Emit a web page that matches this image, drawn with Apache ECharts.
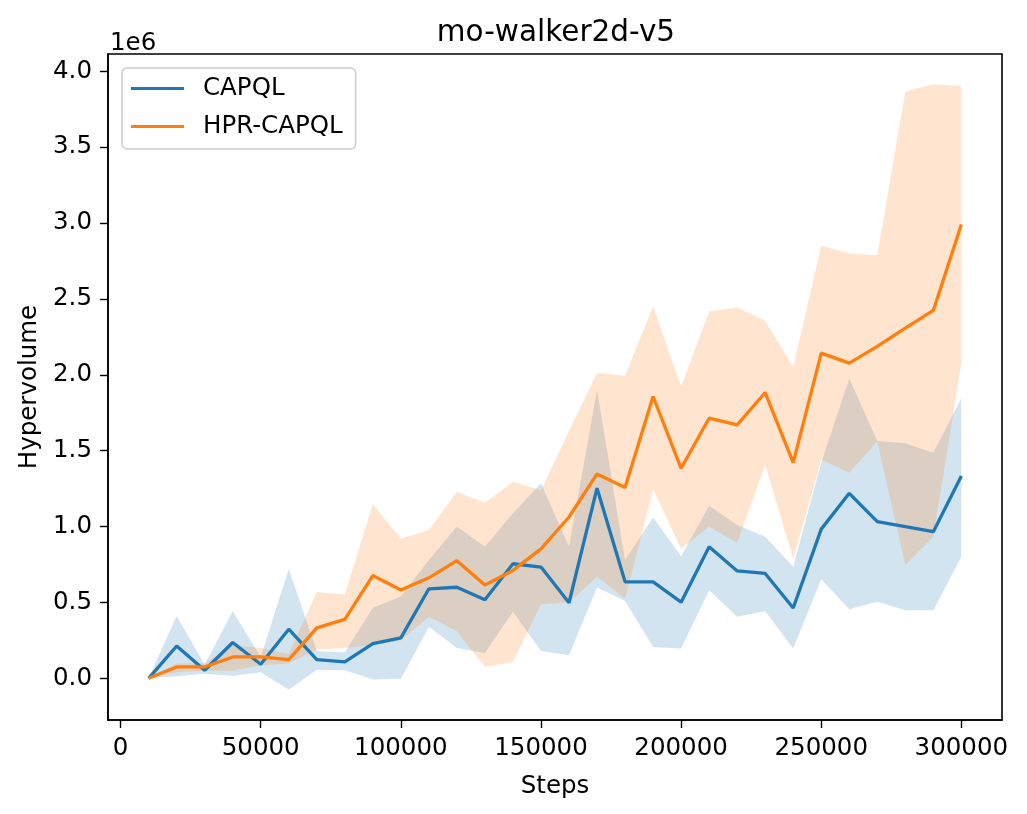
<!DOCTYPE html>
<html>
<head>
<meta charset="utf-8">
<script src="https://cdn.jsdelivr.net/npm/echarts@6/dist/echarts.min.js"></script>
<style>html,body{margin:0;padding:0;background:#fff;}#c{width:1027px;height:814px;}</style>
</head>
<body>
<div id="c"></div>
<script>
// Values in units of 1e6
const steps = [10000,20000,30000,40000,50000,60000,70000,80000,90000,100000,110000,120000,130000,140000,150000,160000,170000,180000,190000,200000,210000,220000,230000,240000,250000,260000,270000,280000,290000,300000];
const capqlMean = [0,0.213,0.053,0.236,0.093,0.324,0.123,0.108,0.229,0.267,0.59,0.60,0.518,0.755,0.733,0.498,1.253,0.636,0.636,0.502,0.867,0.708,0.691,0.463,0.983,1.219,1.032,0.999,0.966,1.333];
const capqlUpper = [0,0.411,0.09,0.442,0.14,0.72,0.18,0.17,0.465,0.54,0.78,1.0,0.867,1.087,1.285,0.867,1.9,0.779,1.06,0.805,1.137,1.01,0.933,0.735,1.42,1.975,1.564,1.549,1.487,1.846];
const capqlLower = [0,0.013,0.03,0.015,0.04,-0.075,0.057,0.053,-0.007,-0.002,0.34,0.2,0.167,0.438,0.18,0.152,0.598,0.51,0.207,0.196,0.58,0.405,0.442,0.196,0.653,0.455,0.504,0.449,0.449,0.801];
const hprMean = [0,0.075,0.075,0.141,0.141,0.123,0.333,0.388,0.677,0.582,0.662,0.775,0.615,0.711,0.853,1.063,1.347,1.258,1.857,1.384,1.714,1.67,1.883,1.421,2.143,2.077,2.187,2.308,2.424,2.99];
const hprUpper = [0,0.1,0.1,0.22,0.2,0.16,0.569,0.553,1.148,0.919,0.977,1.23,1.157,1.296,1.24,1.63,2.011,1.993,2.451,1.923,2.418,2.444,2.356,2.051,2.851,2.797,2.788,3.866,3.914,3.903];
const hprLower = [0,0.04,0.05,0.05,0.086,0.097,0.19,0.2,0.22,0.25,0.405,0.31,0.075,0.108,0.488,0.5,0.67,0.526,1.245,0.856,0.999,0.893,1.406,0.79,1.44,1.355,1.56,0.746,0.933,2.077];
const xTicks = [0,50000,100000,150000,200000,250000,300000];
const yTicks = [0,0.5,1.0,1.5,2.0,2.5,3.0,3.5,4.0];

const FF = 'DejaVu Sans';
const FS = 24.5;
const BLUE = '#1f77b4', ORANGE = '#ff7f0e';
const pairs = (ys) => steps.map((s, i) => [s, ys[i]]);

function bandSeries(name, lower, upper, color) {
  return {
    name: name, type: 'custom', silent: true, z: 2,
    data: steps.map((s, i) => [s, lower[i], upper[i]]),
    encode: {x: 0, y: [1, 2]},
    renderItem: function (params, api) {
      if (params.dataIndex !== 0) return null;
      const pts = [];
      for (let i = 0; i < steps.length; i++) pts.push(api.coord([steps[i], upper[i]]));
      for (let i = steps.length - 1; i >= 0; i--) pts.push(api.coord([steps[i], lower[i]]));
      return {type: 'polygon', shape: {points: pts}, style: {fill: color, stroke: null}};
    }
  };
}

const chart = echarts.init(document.getElementById('c'), null, {renderer: 'canvas'});
chart.setOption({
  animation: false,
  backgroundColor: '#fff',
  title: {text: 'mo-walker2d-v5', left: 551, top: 13, textAlign: 'center',
    textStyle: {fontFamily: FF, fontSize: 29.5, fontWeight: 'normal', color: '#000'}},
  grid: {left: 108, top: 54, width: 894, height: 666, show: true, borderColor: '#000', borderWidth: 1.6, backgroundColor: 'transparent'},
  legend: {orient: 'vertical', left: 122, top: 68, padding: [8, 13, 10, 9], itemGap: 13,
    itemWidth: 53, itemHeight: 3, backgroundColor: '#fff', borderColor: '#cccccc', borderWidth: 1.5, borderRadius: 5,
    textStyle: {fontFamily: FF, fontSize: FS, color: '#000', padding: [0, 0, 0, 14]},
    data: [{name: 'CAPQL', icon: 'rect'}, {name: 'HPR-CAPQL', icon: 'rect'}]},
  graphic: [{type: 'text', left: 110, top: 31, style: {text: '1e6', fontFamily: FF, fontSize: FS, fill: '#000'}}],
  xAxis: {type: 'value', min: -4500, max: 314500, name: 'Steps', nameLocation: 'middle', nameGap: 54,
    nameTextStyle: {fontFamily: FF, fontSize: FS, color: '#000'},
    splitLine: {show: false},
    axisLine: {show: true, onZero: false, lineStyle: {color: '#000', width: 1.6}},
    axisTick: {show: true, length: 8, lineStyle: {color: '#000', width: 1.4}, customValues: xTicks},
    axisLabel: {fontFamily: FF, fontSize: FS, color: '#000', margin: 16, customValues: xTicks, formatter: (v) => String(v)}},
  yAxis: {type: 'value', min: -0.2745, max: 4.1135, name: 'Hypervolume', nameLocation: 'middle', nameGap: 64,
    nameTextStyle: {fontFamily: FF, fontSize: FS, color: '#000'},
    splitLine: {show: false},
    axisLine: {show: true, onZero: false, lineStyle: {color: '#000', width: 1.6}},
    axisTick: {show: true, length: 8, lineStyle: {color: '#000', width: 1.4}, customValues: yTicks},
    axisLabel: {fontFamily: FF, fontSize: FS, color: '#000', margin: 16, customValues: yTicks, formatter: (v) => v.toFixed(1)}},
  series: [
    {name: 'CAPQL', type: 'line', data: pairs(capqlMean), symbol: 'none', color: BLUE,
     lineStyle: {color: BLUE, width: 3.3}, z: 3},
    bandSeries('CAPQL band', capqlLower, capqlUpper, 'rgba(31,119,180,0.2)'),
    {name: 'HPR-CAPQL', type: 'line', data: pairs(hprMean), symbol: 'none', color: ORANGE,
     lineStyle: {color: ORANGE, width: 3.3}, z: 3},
    bandSeries('HPR band', hprLower, hprUpper, 'rgba(255,127,14,0.2)')
  ]
});
</script>
</body>
</html>
